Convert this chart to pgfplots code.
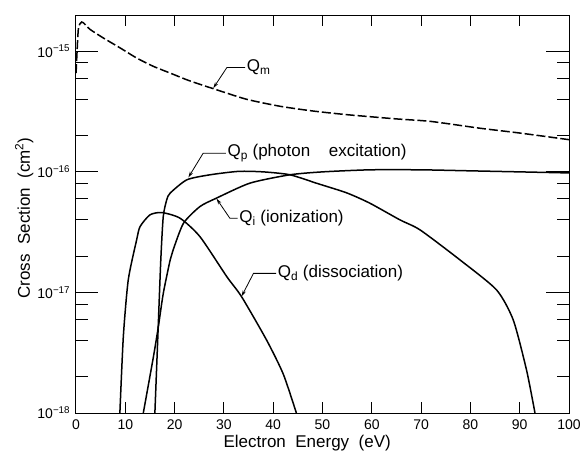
\documentclass[border=0pt]{standalone}
\usepackage{fontspec}
\setmainfont{Liberation Sans}
\usepackage{pgfplots}
\pgfplotsset{compat=1.18}
\usetikzlibrary{arrows.meta}

\begin{document}
\fontsize{17}{20}\selectfont
\begin{tikzpicture}
\begin{axis}[name=ax,
  scale only axis, width=493pt, height=398pt,
  xmin=0, xmax=100, ymode=log, ymin=1e-18, ymax=2e-15,
  axis line style={line width=1pt},
  xtick={0,10,...,100},
  ytick={1e-18,1e-17,1e-16,1e-15},
  yticklabels={10\textsuperscript{−18},10\textsuperscript{−17},10\textsuperscript{−16},10\textsuperscript{−15}},
  minor ytick={2e-18,4e-18,6e-18,8e-18,2e-17,4e-17,6e-17,8e-17,2e-16,4e-16,6e-16,8e-16},
  xtick pos=both, ytick pos=both,
  tick align=inside,
  major tick length=11pt,
  minor tick length=12pt,
  every tick/.style={line width=1pt, black},
  xticklabel style={font=\fontsize{14}{16}\selectfont, yshift=-1pt},
  yticklabel style={font=\fontsize{14}{16}\selectfont},
  /pgf/number format/assume math mode=true,
  xlabel={Electron\ \ Energy\ \ (eV)},
  ylabel={Cross\ \ Section\ \ (cm\textsuperscript{2})},
  xlabel style={at={(axis description cs:0.469,-0.086)}, anchor=base},
  ylabel style={at={(axis description cs:-0.105,0.49)}, anchor=center},
]
% Q_m (dashed)
\addplot[black, no marks, line width=1.5pt, smooth, tension=0.4, dash pattern=on 9pt off 3pt] coordinates {
 (0.02,6.6e-16) (0.47,1.52e-15) (1.16,1.75e-15) (1.83,1.67e-15) (2.84,1.52e-15)
 (5.54,1.29e-15) (8.9,1.07e-15) (12.3,8.8e-16) (15.7,7.5e-16) (19.1,6.6e-16)
 (23,5.7e-16) (28.5,4.8e-16) (34.6,4.0e-16) (41.4,3.5e-16) (48,3.2e-16)
 (55,2.98e-16) (65,2.75e-16) (72,2.62e-16) (82,2.3e-16)
 (90,2.1e-16) (100,1.85e-16)};
% Q_p (photon excitation)
\addplot[black, no marks, line width=1.5pt, smooth, tension=0.4] coordinates {
 (16.0,1e-18) (16.6,4.3e-18) (17.2,1.86e-17) (17.7,4.26e-17) (18.4,5.86e-17)
 (19.1,6.67e-17) (22.5,8.6e-17) (27.2,9.46e-17) (33,1.01e-16) (38,1.0e-16)
 (43.4,9.46e-17) (49,8.0e-17) (54.9,6.7e-17) (59.6,5.5e-17) (65.7,4.0e-17)
 (69.8,3.3e-17) (77.9,1.86e-17) (85.3,1.05e-17) (88.7,5.9e-18) (91.4,2.26e-18)
 (93.1,1e-18)};
% Q_i (ionization)
\addplot[black, no marks, line width=1.5pt, smooth, tension=0.4] coordinates {
 (13.65,1e-18) (15.7,2.92e-18) (16.7,5.19e-18) (17.7,9.8e-18) (19.1,1.86e-17)
 (19.7,2.25e-17) (21.8,3.75e-17) (25.15,5.16e-17) (28.5,6.06e-17) (35.3,8.07e-17)
 (43.4,9.46e-17) (50,1.0e-16) (59.6,1.04e-16) (70,1.04e-16) (80,1.02e-16)
 (90,1.0e-16) (100,9.8e-17)};
% Q_d (dissociation)
\addplot[black, no marks, line width=1.5pt, smooth, tension=0.4] coordinates {
 (8.9,1e-18) (9.6,4.3e-18) (10.6,1.27e-17) (12.3,2.73e-17) (13.0,3.52e-17)
 (15.0,4.4e-17) (17.4,4.6e-17) (21.1,4.13e-17) (25.15,2.9e-17) (30.6,1.35e-17)
 (33.6,9.2e-18) (38.7,4.0e-18) (42.05,2.1e-18) (44.7,1e-18)};

% decade ticks, left and right
\draw[line width=1pt] (axis cs:0,1e-17) -- ([xshift=22pt]axis cs:0,1e-17);
\draw[line width=1pt] (axis cs:0,1e-16) -- ([xshift=22pt]axis cs:0,1e-16);
\draw[line width=1pt] (axis cs:0,1e-15) -- ([xshift=22pt]axis cs:0,1e-15);
\draw[line width=1pt] (axis cs:100,1e-17) -- ([xshift=-23pt]axis cs:100,1e-17);
\draw[line width=1pt] (axis cs:100,1e-16) -- ([xshift=-23pt]axis cs:100,1e-16);
\draw[line width=1pt] (axis cs:100,1e-15) -- ([xshift=-23pt]axis cs:100,1e-15);
% minor y ticks, left
\draw[line width=1pt] (axis cs:0,2e-18) -- ([xshift=12pt]axis cs:0,2e-18);
\draw[line width=1pt] (axis cs:0,4e-18) -- ([xshift=12pt]axis cs:0,4e-18);
\draw[line width=1pt] (axis cs:0,6e-18) -- ([xshift=12pt]axis cs:0,6e-18);
\draw[line width=1pt] (axis cs:0,8e-18) -- ([xshift=12pt]axis cs:0,8e-18);
\draw[line width=1pt] (axis cs:0,2e-17) -- ([xshift=12pt]axis cs:0,2e-17);
\draw[line width=1pt] (axis cs:0,4e-17) -- ([xshift=12pt]axis cs:0,4e-17);
\draw[line width=1pt] (axis cs:0,6e-17) -- ([xshift=12pt]axis cs:0,6e-17);
\draw[line width=1pt] (axis cs:0,8e-17) -- ([xshift=12pt]axis cs:0,8e-17);
\draw[line width=1pt] (axis cs:0,2e-16) -- ([xshift=12pt]axis cs:0,2e-16);
\draw[line width=1pt] (axis cs:0,4e-16) -- ([xshift=12pt]axis cs:0,4e-16);
\draw[line width=1pt] (axis cs:0,6e-16) -- ([xshift=12pt]axis cs:0,6e-16);
\draw[line width=1pt] (axis cs:0,8e-16) -- ([xshift=12pt]axis cs:0,8e-16);
% minor y ticks, right
\draw[line width=1pt] (axis cs:100,2e-18) -- ([xshift=-11pt]axis cs:100,2e-18);
\draw[line width=1pt] (axis cs:100,4e-18) -- ([xshift=-11pt]axis cs:100,4e-18);
\draw[line width=1pt] (axis cs:100,6e-18) -- ([xshift=-11pt]axis cs:100,6e-18);
\draw[line width=1pt] (axis cs:100,8e-18) -- ([xshift=-11pt]axis cs:100,8e-18);
\draw[line width=1pt] (axis cs:100,2e-17) -- ([xshift=-11pt]axis cs:100,2e-17);
\draw[line width=1pt] (axis cs:100,4e-17) -- ([xshift=-11pt]axis cs:100,4e-17);
\draw[line width=1pt] (axis cs:100,6e-17) -- ([xshift=-11pt]axis cs:100,6e-17);
\draw[line width=1pt] (axis cs:100,8e-17) -- ([xshift=-11pt]axis cs:100,8e-17);
\draw[line width=1pt] (axis cs:100,2e-16) -- ([xshift=-11pt]axis cs:100,2e-16);
\draw[line width=1pt] (axis cs:100,4e-16) -- ([xshift=-11pt]axis cs:100,4e-16);
\draw[line width=1pt] (axis cs:100,6e-16) -- ([xshift=-11pt]axis cs:100,6e-16);
\draw[line width=1pt] (axis cs:100,8e-16) -- ([xshift=-11pt]axis cs:100,8e-16);
% x ticks, bottom
\draw[line width=1pt] (axis cs:10,1e-18) -- ([yshift=11pt]axis cs:10,1e-18);
\draw[line width=1pt] (axis cs:20,1e-18) -- ([yshift=11pt]axis cs:20,1e-18);
\draw[line width=1pt] (axis cs:30,1e-18) -- ([yshift=11pt]axis cs:30,1e-18);
\draw[line width=1pt] (axis cs:40,1e-18) -- ([yshift=11pt]axis cs:40,1e-18);
\draw[line width=1pt] (axis cs:50,1e-18) -- ([yshift=11pt]axis cs:50,1e-18);
\draw[line width=1pt] (axis cs:60,1e-18) -- ([yshift=11pt]axis cs:60,1e-18);
\draw[line width=1pt] (axis cs:70,1e-18) -- ([yshift=11pt]axis cs:70,1e-18);
\draw[line width=1pt] (axis cs:80,1e-18) -- ([yshift=11pt]axis cs:80,1e-18);
\draw[line width=1pt] (axis cs:90,1e-18) -- ([yshift=11pt]axis cs:90,1e-18);
% x ticks, top
\draw[line width=1pt] (axis cs:10,2e-15) -- ([yshift=-11pt]axis cs:10,2e-15);
\draw[line width=1pt] (axis cs:20,2e-15) -- ([yshift=-11pt]axis cs:20,2e-15);
\draw[line width=1pt] (axis cs:30,2e-15) -- ([yshift=-11pt]axis cs:30,2e-15);
\draw[line width=1pt] (axis cs:40,2e-15) -- ([yshift=-11pt]axis cs:40,2e-15);
\draw[line width=1pt] (axis cs:50,2e-15) -- ([yshift=-11pt]axis cs:50,2e-15);
\draw[line width=1pt] (axis cs:60,2e-15) -- ([yshift=-11pt]axis cs:60,2e-15);
\draw[line width=1pt] (axis cs:70,2e-15) -- ([yshift=-11pt]axis cs:70,2e-15);
\draw[line width=1pt] (axis cs:80,2e-15) -- ([yshift=-11pt]axis cs:80,2e-15);
\draw[line width=1pt] (axis cs:90,2e-15) -- ([yshift=-11pt]axis cs:90,2e-15);

% annotations
\draw[line width=0.8pt, -{Stealth[length=6pt,width=3.5pt]}]
  (axis cs:34.3,7.33e-16) -- (axis cs:30.6,7.33e-16) -- (axis cs:27.85,4.95e-16);
\node[anchor=west, inner sep=1pt] at (axis cs:34.4,7.33e-16) {Q\textsubscript{m}};

\draw[line width=0.8pt, -{Stealth[length=6pt,width=3.5pt]}]
  (axis cs:30.4,1.43e-16) -- (axis cs:25.8,1.43e-16) -- (axis cs:22.8,9.0e-17);
\node[anchor=west, inner sep=1pt] at (axis cs:30.5,1.43e-16) {Q\textsubscript{p} (photon\hspace{14pt} excitation)};

\draw[line width=0.8pt, -{Stealth[length=6pt,width=3.5pt]}]
  (axis cs:32.8,4.13e-17) -- (axis cs:31.2,4.13e-17) -- (axis cs:28.5,6.0e-17);
\node[anchor=west, inner sep=1pt] at (axis cs:32.9,4.13e-17) {Q\textsubscript{i} (ionization)};

\draw[line width=0.8pt, -{Stealth[length=6pt,width=3.5pt]}]
  (axis cs:40.6,1.44e-17) -- (axis cs:36.0,1.44e-17) -- (axis cs:33.6,9.3e-18);
\node[anchor=west, inner sep=1pt] at (axis cs:40.7,1.44e-17) {Q\textsubscript{d} (dissociation)};
\end{axis}
\pgfresetboundingbox
\path (ax.south west) ++(-76pt,-41pt) rectangle ++(587pt,454pt);
\end{tikzpicture}
\end{document}
